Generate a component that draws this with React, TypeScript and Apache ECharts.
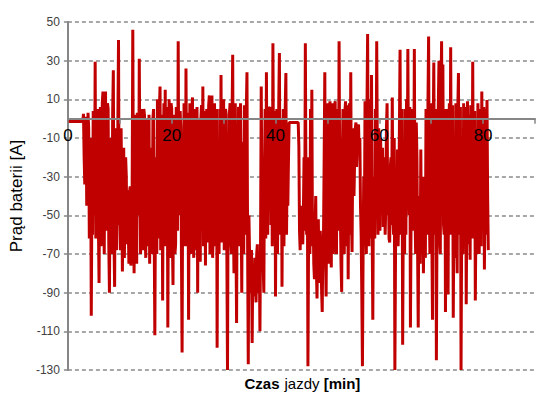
import React, { useEffect, useRef } from "react";
import * as echarts from "echarts";

// Logged battery current, one sample every 0.125 min starting at 0 min
const sampleStartMin = 0;
const sampleStepMin = 0.125;

const current: number[] = [
  -1.5, -1.5, -1.5, -1.5, -1.5, -1.5, -1.5, -1.5, -1.5, -1.5, -1.5, -1.5, -1.5, -1.5, -1.5, -1.5, -1.5, -1.5, -1.5, -1.5,
  -1.5, -1.5, -1.5, -1, 2.5, -20, -34, -8, 1, -45, -30, 3, -5, -62, -55, -10, -102, -40, -60, 4,
  -10, -50, 29.5, -62, -40, 0, 5, -55, -85, -20, 6, -66, -60, 8, 14, -40, -70, -5, 14, -58,
  -30, 8, 5, -65, -90, -30, -10, -70, -60, 4, 25, -62, -87, -5, -20, -68, -50, -2, 40.7, -55,
  -25, -68, -5, -40, -79, -30, -15, -72, -48, -20, -30, -65, -37, -55, -75, -38, -35, -76, -70, -40,
  46, -45, -80, -10, 2, -60, -75, 3, 0, -50, 31, -30, -70, -2, 5, -68, -65, 5, 2, -58,
  -72, -5, 0, -66, -60, 2, -75, -15, -20, -70, -65, 0, 5, -60, -112, -40, -20, -70, 10, -62,
  -50, 5, 16.6, -68, -60, 2, -94, -20, 8, -55, 15, -66, -40, 6, -108, -30, 10, -72, -50, 8,
  5, -62, -86, -10, 2, -70, -65, 6, -10, -58, 40, -50, -30, 4, -5, -70, -121, -20, -40, 8,
  5, -66, 26, -40, -60, 3, -104, -25, 8, -70, -50, 4, 11, -64, -72, -2, 5, -68, -60, 6,
  -90, -15, 0, -62, -74, 0, 7, -58, 16.6, -66, -50, 4, -76, -10, 5, -64, -30, 7, 12, -70,
  -68, 4, 12, -72, -60, 0, 8, -66, -40, 5, -118.5, -30, -20, -70, 5, -56, 22.6, -64, -60, 6,
  10, -68, -45, 5, 2, -70, -130, -30, -50, 3, 8, -64, -70, 0, 33, -52, -80, -8, 8, -60,
  -105.7, -20, -40, 6, 5, -66, 8, -45, -90, -12, -30, -70, 7, -50, -60, 4, 24, -66, -127, -50,
  -70, -85, -90, -68, -116, -75, -80, -92, -72, -84, -95, -70, -65, -90, -88, -72, -110, -60, 16.6, -40,
  -20, -75, -90, -30, 5, -62, 24, -45, -60, 4, 6, 5, 6, -55, -10, -66, 39, -30, -50, 4,
  -92, -20, 5, -70, -40, 8, 34, -50, -60, 0, -87, -25, 5, -66, -30, 6, 23.6, -60, -20, -45,
  -21, -2, -2, -2, -2, -2, -2, -2, -2, -2, -2, -2, -2, -2, -2, -2, -14, -58, -68, -50,
  -45, -62, -65, -48, -20, -58, 39, -40, -60, -20, -128, -60, -40, -70, 5, -52, 15, -66, -50, -75,
  -83, -55, -40, -78, -93, -60, -52, -80, -85, -58, -70, -88, -100, -64, -60, -20, 24, -70, -92, -40,
  8, -60, -75, 5, 9, -68, -77, 3, 8, -70, -60, 6, 9, -64, -70, 2, 5, -58, 40, -30,
  -50, -75, -89.6, -20, 5, -62, -70, 4, 9, -66, -40, 7, -83, -30, 8, -60, 24, -50, -69, -20,
  -5, -40, -20, -5, -2, -25, -15, -4, -3, -18, -10, -45, -60, -90, -128, -70, -30, -60, 9, -50,
  -70, 6, 43.8, -40, -66, 5, 10, -62, 22.6, -58, -104, -35, -30, -62, 5, -40, 40, -20, -60, -5,
  -25, -58, -10, -35, -40, -15, -56, -30, -20, -60, -45, -5, 8, -50, -30, -62, -64, -25, -20, -55,
  11, -50, -60, -10, -130, -70, -40, -60, -16, -66, -50, -5, 35.6, -45, -60, 5, -117, -50, -30, -70,
  5, -60, 10, -40, 36, -30, -50, 6, -108, -50, -40, 5, 5, -58, 36, -45, -70, -2, -20, -66,
  -108, -40, -50, -75, -16, -70, -60, -30, -80, -45, -40, -72, 5, -50, -60, 8, 42.5, -45, -70, 5,
  8, -62, -104, -10, 29, -45, -60, 5, -125, -50, -20, 8, 30, -62, -70, 6, 40, -30, 28, -55,
  -60, 5, -100, -40, 5, -66, -91, -10, 8, -60, 37, -40, -50, 7, -103, -45, -20, -72, 8, -50,
  -80, 5, 23.6, -60, -40, 6, -130, -55, -30, -70, 8, -48, -60, 6, -96, -40, 9, -65, 2, -50,
  -73, 7, 5, -62, 29.5, -45, -60, 4, -94, -50, -30, -70, 8, -55, -70, 3, 5, -66, 14, -40,
  -50, 6, -78, -30, 5, -60, 9.7, -40, -68,
];

const xLabelValues = [0, 20, 40, 60, 80];
const yMin = -130;
const yMax = 50;
const yStep = 20;
const xMax = 90;

// x-axis title parts: [text, bold, centre x]
const xTitleParts: [string, boolean, number][] = [
  ["Czas", true, 262],
  ["jazdy", false, 302],
  ["[min]", true, 342],
];

export default function App() {
  const ref = useRef<HTMLDivElement>(null);
  useEffect(() => {
    const chart = echarts.init(ref.current!, null, { renderer: "svg" });
    const data = current.map((v, i) => [sampleStartMin + i * sampleStepMin, v]);
    const gridTop = 22;
    const gridBottomPx = 370;
    const zeroPx = gridTop + ((yMax - 0) / (yMax - yMin)) * (gridBottomPx - gridTop);
    chart.setOption({
      animation: false,
      grid: { left: 67, right: 16, top: gridTop, bottom: 401 - gridBottomPx },
      xAxis: {
        type: "value",
        min: 0,
        max: xMax,
        interval: 10,
        z: 10,
        offset: -(gridBottomPx - zeroPx),
        axisLine: { onZero: false, lineStyle: { color: "#868686", width: 2 } },
        axisTick: { show: true, length: 5, lineStyle: { color: "#868686", width: 1.5 } },
        axisLabel: {
          formatter: (v: number) => (xLabelValues.includes(v) ? String(v) : ""),
          fontSize: 17,
          color: "#000",
          margin: 8,
          fontFamily: "Liberation Sans",
          showMinLabel: true,
          showMaxLabel: true,
        },
        splitLine: { show: false },
      },
      yAxis: {
        type: "value",
        min: yMin,
        max: yMax,
        interval: yStep,
        axisLine: { show: true, onZero: false, lineStyle: { color: "#868686", width: 2 } },
        axisTick: { show: true, length: 4, lineStyle: { color: "#868686", width: 1.5 } },
        axisLabel: {
          fontSize: 12,
          color: "#404040",
          margin: 8,
          fontFamily: "Liberation Sans",
        },
        splitLine: {
          show: true,
          lineStyle: { color: "#8a8a8a", type: [4, 3], width: 1.5 },
        },
        name: "Prąd baterii [A]",
        nameLocation: "middle",
        nameGap: 41,
        nameTextStyle: { fontSize: 17, color: "#000", fontFamily: "Liberation Sans" },
      },
      graphic: xTitleParts.map(([t, bold, cx]) => ({
        type: "text",
        x: cx,
        y: 383,
        style: {
          text: t,
          align: "center",
          verticalAlign: "middle",
          fontSize: 15,
          fontWeight: bold ? "bold" : "normal",
          fontFamily: "Liberation Sans",
          fill: "#000",
        },
      })),
      series: [
        {
          type: "line",
          data,
          showSymbol: false,
          lineStyle: { color: "#C00000", width: 3 },
          itemStyle: { color: "#C00000" },
          z: 2,
        },
      ],
    });
    return () => chart.dispose();
  }, []);
  return (
    <div
      ref={ref}
      style={{ position: "absolute", left: 0, top: 0, width: 551, height: 401 }}
    />
  );
}
